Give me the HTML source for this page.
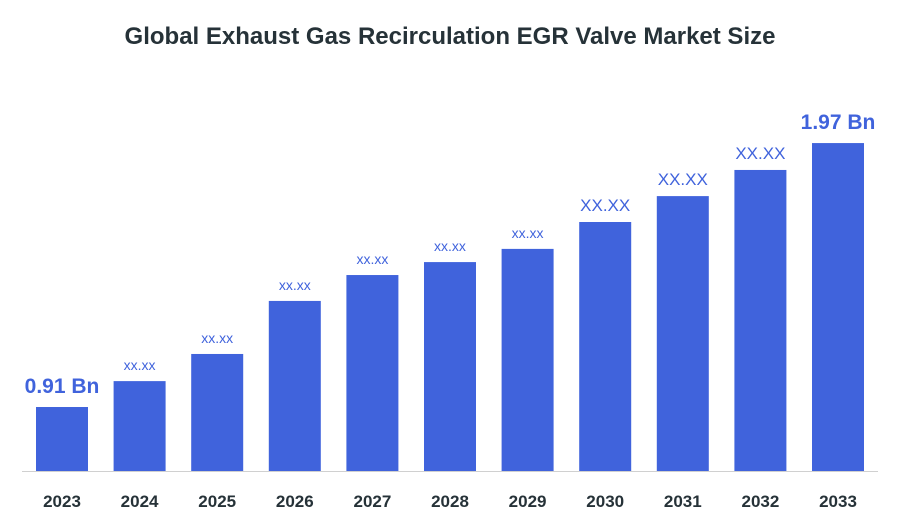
<!DOCTYPE html>
<html><head><meta charset="utf-8"><style>
body{margin:0;background:#fff;}
svg{display:block;font-family:"Liberation Sans",sans-serif;}
</style></head><body>
<svg id="chart" width="900" height="525">
<text x="450" y="44" text-anchor="middle" font-size="24" font-weight="bold" fill="#263238">Global Exhaust Gas Recirculation EGR Valve Market Size</text>
<line x1="22" y1="471.5" x2="878" y2="471.5" stroke="#d0d0d0" stroke-width="1"/>
<g id="bars"></g>
</svg>
<script>
const categories=["2023","2024","2025","2026","2027","2028","2029","2030","2031","2032","2033"];
const values=[0.91,1.014,1.123,1.336,1.440,1.492,1.545,1.653,1.757,1.862,1.97];
const valueLabels=["0.91 Bn","xx.xx","xx.xx","xx.xx","xx.xx","xx.xx","xx.xx","XX.XX","XX.XX","XX.XX","1.97 Bn"];
const baseY=471, vMin=0.653, pxPerUnit=249;
function yScale(v){return baseY-(v-vMin)*pxPerUnit;}
function xScale(i){return 36+i*77.6;}
const barW=52;
const g=document.getElementById('bars');
const ns="http://www.w3.org/2000/svg";
categories.forEach((c,i)=>{
  const x=xScale(i), y=yScale(values[i]);
  const r=document.createElementNS(ns,'rect');
  r.setAttribute('x',x);r.setAttribute('y',y);r.setAttribute('width',barW);r.setAttribute('height',baseY-y);
  r.setAttribute('fill','#4063dc');
  
  
  g.appendChild(r);
  const t=document.createElementNS(ns,'text');
  t.setAttribute('x',x+barW/2);t.setAttribute('y',507);t.setAttribute('text-anchor','middle');
  t.setAttribute('font-size','17');t.setAttribute('font-weight','bold');t.setAttribute('fill','#263238');
  t.textContent=c;
  
  
  g.appendChild(t);
  const lbl=valueLabels[i];
  const big=lbl.indexOf('Bn')>=0, caps=lbl==="XX.XX";
  const v=document.createElementNS(ns,'text');
  v.setAttribute('x',x+barW/2);v.setAttribute('y',y-(big?14:caps?11:11));v.setAttribute('text-anchor','middle');
  v.setAttribute('font-size',big?'21':caps?'17':'14');
  if(big)v.setAttribute('font-weight','bold');
  v.setAttribute('fill','#4063dc');
  v.textContent=lbl;
  
  
  g.appendChild(v);
});
</script>
</body></html>
